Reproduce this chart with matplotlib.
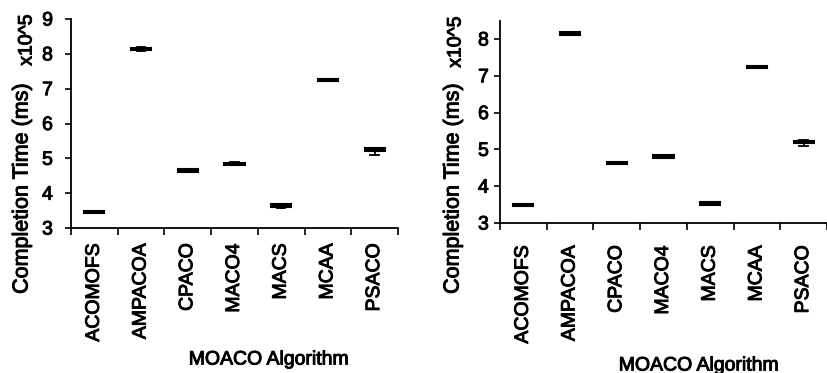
import matplotlib
matplotlib.use("Agg")
import matplotlib.pyplot as plt
import matplotlib.patheffects as pe
from matplotlib.ticker import FixedLocator, NullFormatter

plt.rcParams['font.family'] = ['Liberation Sans', 'DejaVu Sans']

categories = ["ACOMOFS", "AMPACOA", "CPACO", "MACO4", "MACS", "MCAA", "PSACO"]

# Left panel (values in units of 10^5 ms)
left_med = [3.46, 8.14, 4.64, 4.84, 3.63, 7.25, 5.24]
left_q1 = [3.44, 8.10, 4.61, 4.81, 3.59, 7.23, 5.20]
left_q3 = [3.48, 8.18, 4.68, 4.88, 3.68, 7.27, 5.29]
left_lo = [3.44, 8.09, 4.60, 4.80, 3.58, 7.23, 5.11]
left_hi = [3.48, 8.19, 4.68, 4.89, 3.69, 7.27, 5.30]

# Right panel
right_med = [3.48, 8.14, 4.64, 4.80, 3.53, 7.23, 5.20]
right_q1 = [3.45, 8.11, 4.61, 4.77, 3.50, 7.20, 5.17]
right_q3 = [3.51, 8.18, 4.67, 4.84, 3.56, 7.26, 5.24]
right_lo = [3.45, 8.10, 4.60, 4.76, 3.50, 7.20, 5.10]
right_hi = [3.51, 8.19, 4.67, 4.85, 3.58, 7.26, 5.25]

left_yticks = [3, 4, 5, 6, 7, 8, 9]
right_yticks = [3, 4, 5, 6, 7, 8]

fig = plt.figure(figsize=(8.27, 3.73), dpi=100)
W, H = 827.0, 373.0
thick = [pe.withStroke(linewidth=0.7, foreground='black')]


def make_axes(x0, x1, ytop, ybot):
    return fig.add_axes([x0 / W, (H - ybot) / H, (x1 - x0) / W, (ybot - ytop) / H])


def draw(ax, med, q1, q3, lo, hi, ylim, yticks, labpad, ypad):
    stats = []
    for c, m, a, b, l, h in zip(categories, med, q1, q3, lo, hi):
        stats.append(dict(label=c, med=m, q1=a, q3=b, whislo=l, whishi=h, fliers=[]))
    pos = list(range(1, len(categories) + 1))
    ax.bxp(stats, positions=pos, widths=0.43, patch_artist=True,
           boxprops=dict(facecolor='black', edgecolor='black', linewidth=1.5),
           medianprops=dict(color='black', linewidth=1.5),
           whiskerprops=dict(color='black', linewidth=1.3),
           capprops=dict(color='black', linewidth=1.3),
           capwidths=0.18, manage_ticks=False)
    ax.set_xlim(0.5, len(categories) + 0.5)
    ax.set_ylim(*ylim)
    ax.set_yticks(yticks)
    ax.set_yticklabels([str(t) for t in yticks])
    ax.xaxis.set_major_locator(FixedLocator([p - 0.5 for p in pos] + [pos[-1] + 0.5]))
    ax.xaxis.set_major_formatter(NullFormatter())
    ax.xaxis.set_minor_locator(FixedLocator(pos))
    ax.set_xticklabels(categories, minor=True, rotation=90, fontsize=14, va='top', ha='center')
    ax.tick_params(axis='x', which='major', length=5, width=1.2, direction='out')
    ax.tick_params(axis='x', which='minor', length=0, pad=labpad)
    ax.tick_params(axis='y', length=4, width=1.2, direction='out', labelsize=14, pad=ypad)
    for t in ax.get_xticklabels(minor=True) + ax.get_yticklabels():
        t.set_path_effects(thick)
    for s in ['top', 'right']:
        ax.spines[s].set_visible(False)
    for s in ['left', 'bottom']:
        ax.spines[s].set_linewidth(1.3)


axL = make_axes(71, 398, 19, 228)
draw(axL, left_med, left_q1, left_q3, left_lo, left_hi, (3, 9), left_yticks, 11, 9)
axR = make_axes(500, 827, 20.6, 223)
draw(axR, right_med, right_q1, right_q3, right_lo, right_hi, (3, 8.5), right_yticks, 16, 4)

# axis titles
kw = dict(ha='center', va='center', path_effects=thick)
fig.text(22 / W, 1 - 189 / H, "Completion Time (ms)", rotation=90, fontsize=15.5, **kw)
fig.text(27 / W, 1 - 40 / H, "x10^5", rotation=90, fontsize=14, **kw)
fig.text(269 / W, 1 - 360 / H, "MOACO Algorithm", fontsize=14, **kw)

fig.text(453 / W, 1 - 189 / H, "Completion Time (ms)", rotation=90, fontsize=15.5, **kw)
fig.text(456 / W, 1 - 42 / H, "x10^5", rotation=90, fontsize=14, **kw)
fig.text(699 / W, 1 - 366 / H, "MOACO Algorithm", fontsize=14, **kw)

fig.savefig("out.png", dpi=100)
